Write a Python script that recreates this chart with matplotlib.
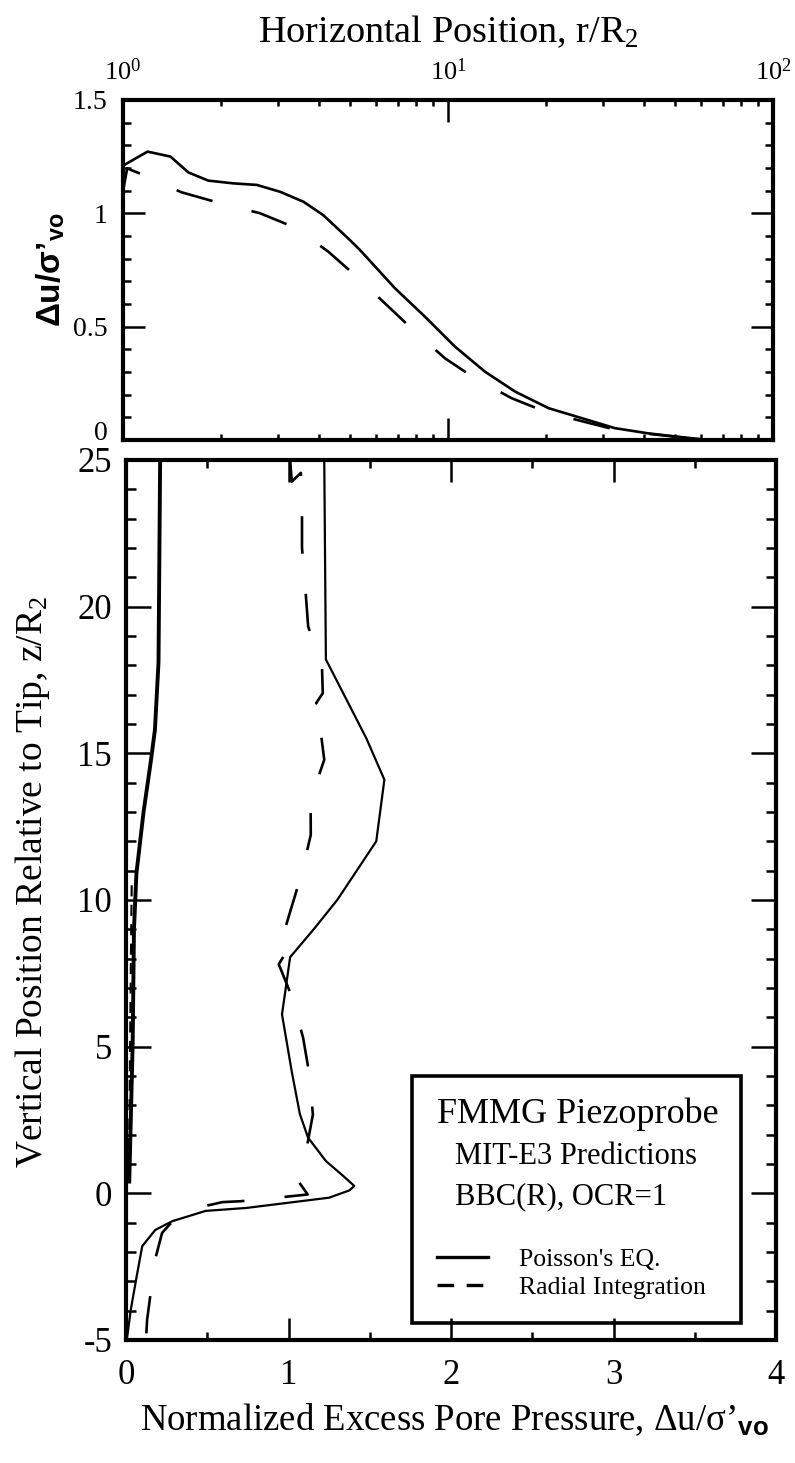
import matplotlib
matplotlib.use("Agg")
import matplotlib.pyplot as plt
from matplotlib.lines import Line2D
from matplotlib.patches import Rectangle
from matplotlib.ticker import MultipleLocator, LogLocator, FuncFormatter, NullFormatter

plt.rcParams['font.family'] = ['Liberation Serif', 'DejaVu Serif']
plt.rcParams['mathtext.fontset'] = 'custom'
plt.rcParams['mathtext.rm'] = 'Liberation Serif'
plt.rcParams['mathtext.it'] = 'Liberation Serif:italic'
plt.rcParams['mathtext.bf'] = 'Liberation Sans:bold'
plt.rcParams['axes.unicode_minus'] = False
plt.rcParams['lines.scale_dashes'] = False

# --- top panel: du/s'vo vs r/R2 (log) ---
r_poisson = [1.0, 1.19, 1.40, 1.59, 1.83, 2.18, 2.58, 3.04, 3.59, 4.13, 4.99, 5.36,
             6.87, 8.49, 10.5, 13.0, 16.1, 20.4, 25.8, 32.6, 41.3, 52.4, 60.3]
du_poisson = [1.21, 1.272, 1.25, 1.18, 1.144, 1.132, 1.125, 1.095, 1.051, 0.992, 0.882, 0.838,
              0.669, 0.544, 0.412, 0.301, 0.213, 0.140, 0.096, 0.052, 0.029, 0.012, 0.003]
r_radial = [1.0, 1.03, 1.155, 1.51, 1.96, 2.64, 3.38, 4.28, 5.24, 6.48, 7.91, 9.79,
            12.1, 15.7, 19.9, 26.1, 33.0, 41.3, 52.4, 60.3]
du_radial = [1.095, 1.198, 1.169, 1.093, 1.047, 1.0, 0.937, 0.831, 0.72, 0.595, 0.478, 0.36,
             0.272, 0.184, 0.125, 0.081, 0.044, 0.027, 0.011, 0.003]

# --- bottom panel: z/R2 vs du/s'vo ---
thick_du = [0.21, 0.205, 0.20, 0.178, 0.152, 0.108, 0.064, 0.049, 0.041, 0.02]
thick_z = [25.0, 21.5, 18.1, 15.8, 14.7, 13.0, 10.9, 9.0, 5.1, 0.4]

pois_du = [1.22, 1.23, 1.48, 1.59, 1.54, 1.30, 1.155, 1.01, 0.96, 1.02, 1.07, 1.12, 1.23,
           1.335, 1.405, 1.375, 1.25, 0.74, 0.49, 0.285, 0.18, 0.10, 0.065, 0.03, 0.007, 0.0]
pois_z = [25.0, 18.2, 15.5, 14.1, 12.0, 10.0, 9.0, 8.05, 6.1, 4.15, 2.7, 1.9, 1.1,
          0.6, 0.25, 0.1, -0.15, -0.5, -0.6, -0.95, -1.25, -1.8, -2.85, -3.95, -4.9, -5.0]

rad_du = [1.01, 1.02, 1.076, 1.083, 1.083, 1.103, 1.121, 1.15, 1.205, 1.211, 1.17, 1.23, 1.19,
          1.22, 1.136, 1.137, 1.083, 1.014, 0.973, 1.034, 0.94, 1.02, 1.09, 1.13, 1.15, 1.10,
          1.067, 1.118, 0.964, 0.707, 0.594, 0.49, 0.274, 0.222, 0.179, 0.145, 0.13, 0.123]
rad_z = [25.0, 24.26, 24.56, 23.3, 22.0, 20.67, 19.32, 18.87, 18.13, 17.05, 16.71, 16.48, 16.09,
         14.78, 13.42, 12.22, 10.93, 9.67, 8.91, 8.66, 7.81, 6.71, 5.3, 4.0, 2.68, 1.2,
         0.36, -0.04, -0.13, -0.27, -0.30, -0.43, -1.03, -1.35, -2.26, -3.68, -4.3, -5.0]

# dashed trace hugging the axis below z=10
rad_wall_du = [0.035, 0.03, 0.025, 0.02, 0.015]
rad_wall_z = [10.5, 8.0, 5.0, 2.0, 0.4]

fmt = FuncFormatter(lambda v, p: '%g' % v)

fig = plt.figure(figsize=(7.95, 14.63), dpi=100)

ax1 = fig.add_axes([0.1547, 0.6993, 0.8176, 0.2324])
ax1.plot(r_poisson, du_poisson, color='black', lw=1.9)
ax1.plot(r_radial, du_radial, color='black', lw=1.9, dashes=(27, 29))
ax1.set_xscale('log')
ax1.set_xlim(1, 100)
ax1.set_ylim(0, 1.5)
ax1.xaxis.set_major_locator(LogLocator(base=10))
ax1.xaxis.set_minor_locator(LogLocator(base=10, subs=range(2, 10)))
ax1.xaxis.set_minor_formatter(NullFormatter())
ax1.yaxis.set_major_locator(MultipleLocator(0.5))
ax1.yaxis.set_minor_locator(MultipleLocator(0.1))
ax1.yaxis.set_major_formatter(fmt)
ax1.tick_params(axis='both', which='both', direction='in', top=True, right=True, width=1.8)
ax1.tick_params(axis='x', labeltop=True, labelbottom=False, labelsize=19, pad=11)
ax1.tick_params(axis='y', labelsize=20, pad=11)
ax1.tick_params(which='major', length=16)
ax1.tick_params(axis='y', which='minor', length=6)
ax1.tick_params(axis='x', which='minor', length=4)
for s in ax1.spines.values():
    s.set_linewidth(3)
ax1.xaxis.set_label_position('top')
ax1.set_xlabel('Horizontal Position, r/R$_2$', fontsize=27.5)
ax1.xaxis.set_label_coords(0.5, 1.17)
ax1.set_ylabel('Δu/σ’$_{\\mathbf{vo}}$', fontsize=24, fontweight='bold',
               family='Liberation Sans')
ax1.yaxis.set_label_coords(-0.086, 0.5)

ax2 = fig.add_axes([0.1585, 0.0841, 0.8176, 0.6015])
ax2.plot(thick_du, thick_z, color='black', lw=2.8)
ax2.plot(rad_wall_du, rad_wall_z, color='black', lw=1.5, dashes=(8, 6))
ax2.plot(pois_du, pois_z, color='black', lw=1.6)
ax2.plot(rad_du, rad_z, color='black', lw=1.9, dashes=(27, 29))
ax2.set_xlim(0, 4)
ax2.set_ylim(-5, 25)
ax2.xaxis.set_major_locator(MultipleLocator(1))
ax2.xaxis.set_minor_locator(MultipleLocator(0.5))
ax2.yaxis.set_major_locator(MultipleLocator(5))
ax2.yaxis.set_minor_locator(MultipleLocator(1))
ax2.xaxis.set_major_formatter(fmt)
ax2.yaxis.set_major_formatter(fmt)
ax2.tick_params(axis='both', which='both', direction='in', top=True, right=True,
                width=1.8, labelsize=25)
ax2.tick_params(axis='x', pad=14)
ax2.tick_params(axis='y', pad=10)
ax2.tick_params(axis='y', which='major', length=18)
ax2.tick_params(axis='y', which='minor', length=7)
ax2.tick_params(axis='x', which='major', length=16)
ax2.tick_params(axis='x', which='minor', length=6)
for s in ax2.spines.values():
    s.set_linewidth(3)
ax2.set_xlabel('Normalized Excess Pore Pressure, Δu/σ’$_{\\mathbf{vo}}$', fontsize=26.5)
ax2.xaxis.set_label_coords(0.505, -0.07)
ax2.set_ylabel('Vertical Position Relative to Tip, z/R$_2$', fontsize=27)
ax2.yaxis.set_label_coords(-0.114, 0.52)

# legend box
ax2.add_patch(Rectangle((0.44, 0.0193), 0.506, 0.281, transform=ax2.transAxes,
                        fill=False, lw=2.6, color='black', zorder=5))
ax2.text(0.478, 0.257, 'FMMG Piezoprobe', transform=ax2.transAxes, fontsize=26,
         ha='left', va='center')
ax2.text(0.506, 0.208, 'MIT-E3 Predictions', transform=ax2.transAxes, fontsize=22,
         ha='left', va='center')
ax2.text(0.506, 0.1625, 'BBC(R), OCR=1', transform=ax2.transAxes, fontsize=22,
         ha='left', va='center')
handles = [Line2D([], [], color='black', lw=2.4),
           Line2D([], [], color='black', lw=2.4, dashes=(12, 9))]
ax2.legend(handles, ["Poisson's EQ.", 'Radial Integration'], loc='center left',
           bbox_to_anchor=(0.478, 0.076), frameon=False, fontsize=18.5,
           borderpad=0, borderaxespad=0, handlelength=2.0, handletextpad=1.2,
           labelspacing=0.2)

# lift the top panel's "0" so it sits just above the lower panel's "25"
fig.canvas.draw()
for t in ax1.yaxis.get_major_ticks():
    if abs(t.get_loc()) < 1e-9:
        t.label1.set_verticalalignment('baseline')

fig.savefig('out.png', dpi=100)
